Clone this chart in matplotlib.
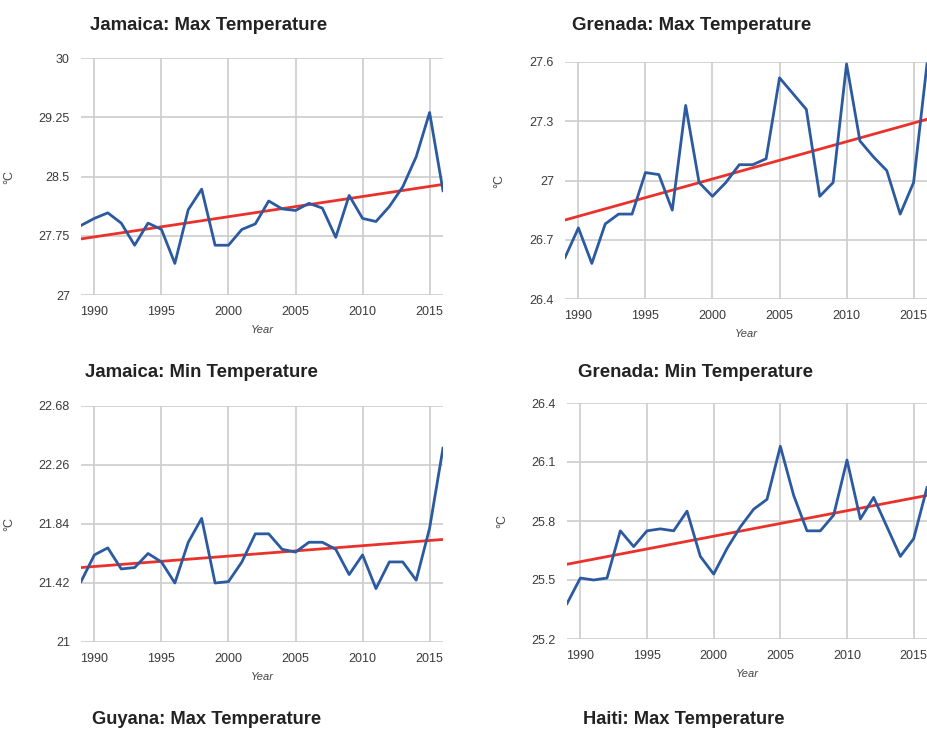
import matplotlib.pyplot as plt

plt.rcParams['font.family'] = ['Liberation Sans', 'DejaVu Sans']

years = list(range(1989, 2017))

jam_max = [27.88, 27.97, 28.04, 27.91, 27.63, 27.91, 27.83, 27.40, 28.08, 28.34,
           27.63, 27.63, 27.83, 27.90, 28.19, 28.09, 28.07, 28.16, 28.10, 27.73,
           28.26, 27.97, 27.93, 28.12, 28.37, 28.75, 29.31, 28.32]
gre_max = [26.61, 26.76, 26.58, 26.78, 26.83, 26.83, 27.04, 27.03, 26.85, 27.38,
           26.99, 26.92, 26.99, 27.08, 27.08, 27.11, 27.52, 27.44, 27.36, 26.92,
           26.99, 27.59, 27.20, 27.12, 27.05, 26.83, 26.99, 27.59]
jam_min = [21.43, 21.62, 21.67, 21.52, 21.53, 21.63, 21.57, 21.42, 21.71, 21.88,
           21.42, 21.43, 21.57, 21.77, 21.77, 21.66, 21.64, 21.71, 21.71, 21.66,
           21.48, 21.62, 21.38, 21.57, 21.57, 21.44, 21.81, 22.38]
gre_min = [25.38, 25.51, 25.50, 25.51, 25.75, 25.67, 25.75, 25.76, 25.75, 25.85,
           25.62, 25.53, 25.66, 25.77, 25.86, 25.91, 26.18, 25.93, 25.75, 25.75,
           25.83, 26.11, 25.81, 25.92, 25.77, 25.62, 25.71, 25.97]

# linear trend end values (1989, 2016)
jam_max_trend = [27.71, 28.40]
gre_max_trend = [26.80, 27.31]
jam_min_trend = [21.53, 21.73]
gre_min_trend = [25.58, 25.93]

jam_max_ticks = [27, 27.75, 28.5, 29.25, 30]
gre_max_ticks = [26.4, 26.7, 27, 27.3, 27.6]
jam_min_ticks = [21, 21.42, 21.84, 22.26, 22.68]
gre_min_ticks = [25.2, 25.5, 25.8, 26.1, 26.4]

titles = ['Jamaica: Max Temperature', 'Grenada: Max Temperature',
          'Jamaica: Min Temperature', 'Grenada: Min Temperature']
next_titles = ['Guyana: Max Temperature', 'Haiti: Max Temperature']

W, H = 928, 731
fig = plt.figure(figsize=(W / 100, H / 100), dpi=100)

# pixel boxes: left, right, top, bottom
boxes = [(81, 443, 58, 295), (565, 927, 62, 299),
         (81, 443, 406, 642), (567, 927, 403, 639)]
title_pos = [(90, 25), (572, 25), (85, 372), (578, 372)]
ylab_x = [15, 505, 15, 508]

series = [jam_max, gre_max, jam_min, gre_min]
trends = [jam_max_trend, gre_max_trend, jam_min_trend, gre_min_trend]
ticks = [jam_max_ticks, gre_max_ticks, jam_min_ticks, gre_min_ticks]

for i in range(4):
    l, r, t, b = boxes[i]
    ax = fig.add_axes([l / W, 1 - b / H, (r - l) / W, (b - t) / H])
    ax.plot([years[0], years[-1]], trends[i], color='#e8322b', lw=2, zorder=3)
    ax.plot(years, series[i], color='#2c5aa0', lw=2, zorder=4)
    ax.set_xlim(1989, 2016)
    ax.set_ylim(ticks[i][0], ticks[i][-1])
    ax.set_yticks(ticks[i])
    ax.set_yticklabels([('%g' % v) for v in ticks[i]])
    ax.set_xticks([1990, 1995, 2000, 2005, 2010, 2015])
    for s in ax.spines.values():
        s.set_visible(False)
    ax.grid(True, color='#cccccc', lw=1.2)
    ax.set_axisbelow(True)
    ax.tick_params(length=0, labelsize=9, colors='#3a3a3a', pad=8)
    ax.set_xlabel('Year', fontsize=8, style='italic', color='#444444', labelpad=5)
    ax.set_ylabel('°C', fontsize=9, color='#444444')
    ax.yaxis.set_label_coords((ylab_x[i] - l) / (r - l), 0.5)
    fig.text(title_pos[i][0] / W, 1 - title_pos[i][1] / H, titles[i],
             fontsize=13.4, fontweight='bold', color='#222222', va='center')

fig.text(92 / W, 1 - 720 / H, next_titles[0], fontsize=13.2,
         fontweight='bold', color='#222222', va='center')
fig.text(583 / W, 1 - 720 / H, next_titles[1], fontsize=13.2,
         fontweight='bold', color='#222222', va='center')

fig.savefig('out.png', dpi=100)
